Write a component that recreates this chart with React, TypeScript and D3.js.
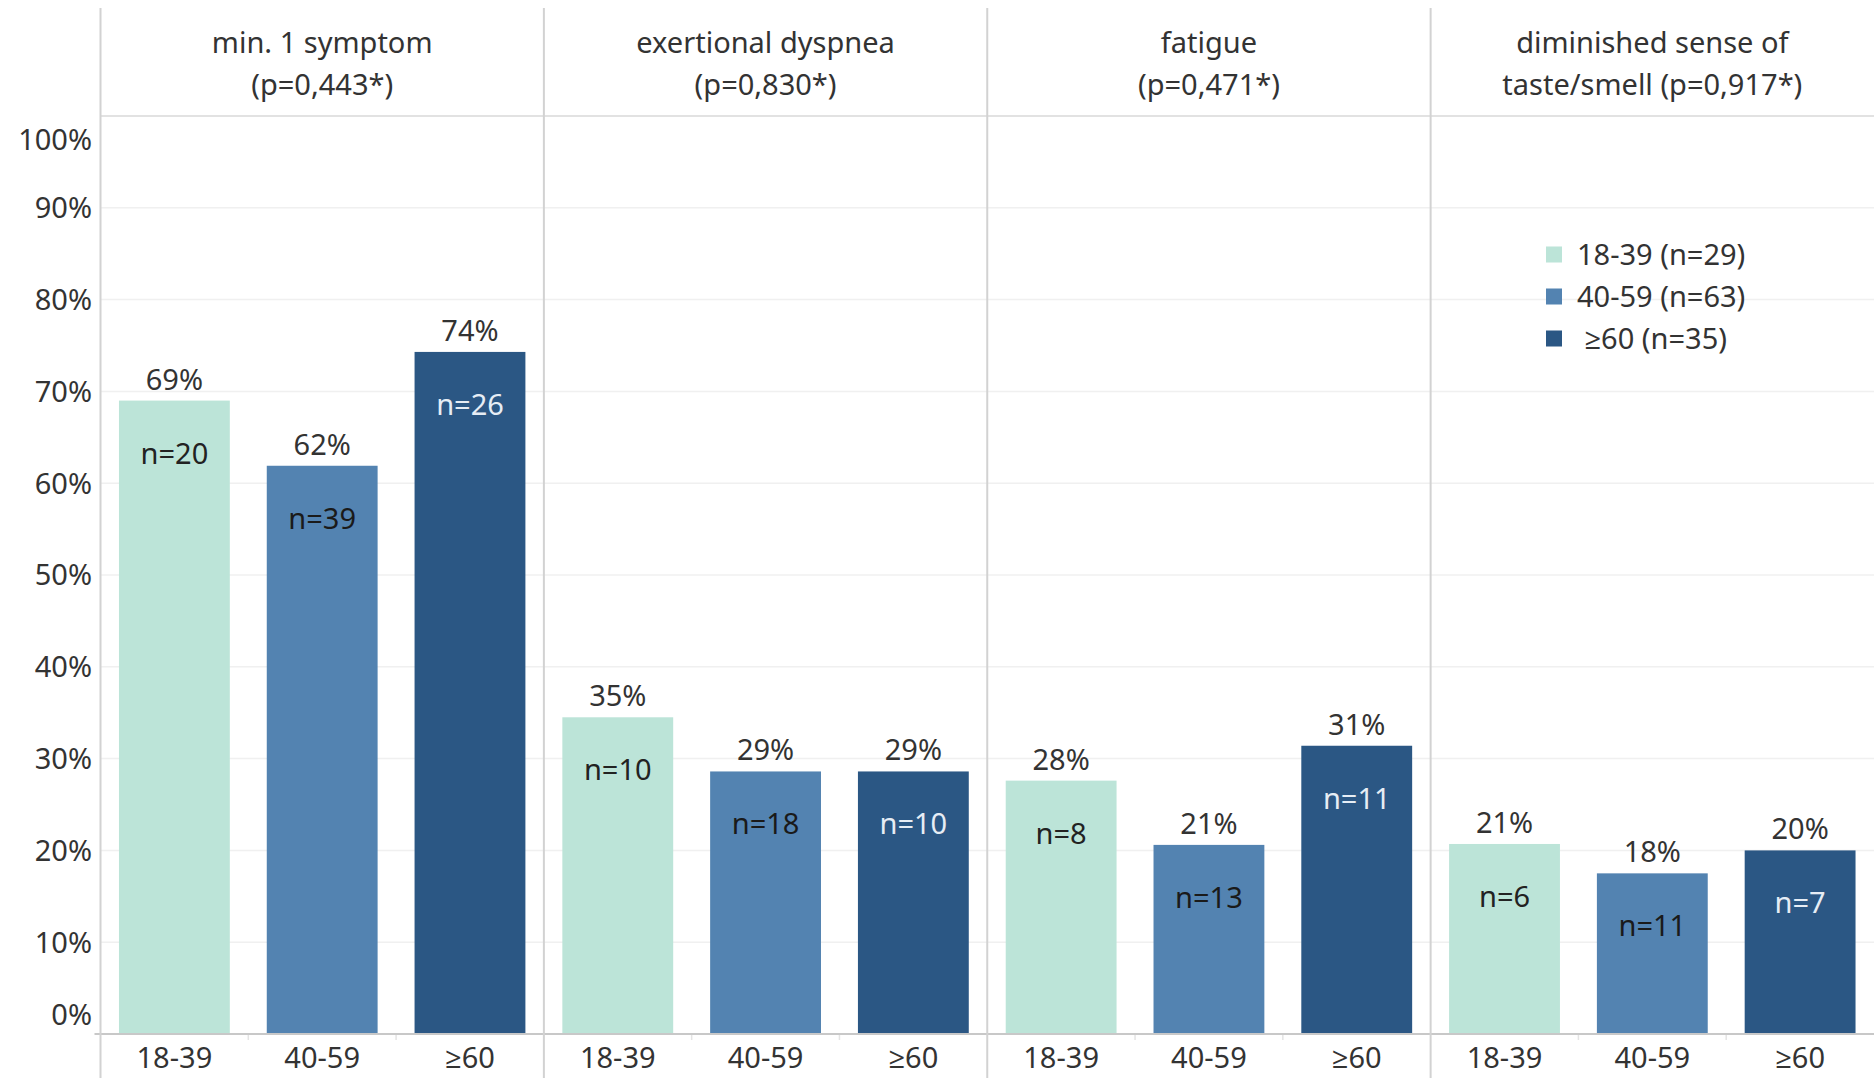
import React from "react";
import * as d3 from "d3";

const symptoms = ["min1", "dyspnea", "fatigue", "taste"];
const headerLine1 = ["min. 1 symptom", "exertional dyspnea", "fatigue", "diminished sense of"];
const headerLine2 = ["(p=0,443*)", "(p=0,830*)", "(p=0,471*)", "taste/smell (p=0,917*)"];
const ageGroups = ["18-39", "40-59", "≥60"];
const legendLabels = ["18-39 (n=29)", "40-59 (n=63)", " ≥60 (n=35)"];
const colors = ["#bce4d8", "#5383b1", "#2b5784"];
const nLabelColors = ["#222222", "#1a1a1a", "#e6edf5"];

const pct18 = [69.0, 34.5, 27.6, 20.7];
const pct40 = [61.9, 28.6, 20.6, 17.5];
const pct60 = [74.3, 28.6, 31.4, 20.0];
const n18 = [20, 10, 8, 6];
const n40 = [39, 18, 13, 11];
const n60 = [26, 10, 11, 7];
const yTicks = [0, 10, 20, 30, 40, 50, 60, 70, 80, 90, 100];

const W = 1874;
const H = 1078;
const left = 100.5;
const headerY = 116;
const baseY = 1034;
const FONT = "'Noto Sans', 'Open Sans', sans-serif";
const FS = 29;
const TXT = "#333333";

export default function App() {
  const pcts = [pct18, pct40, pct60];
  const ns = [n18, n40, n60];
  const panelX = d3.scaleBand<string>().domain(symptoms).range([left, W]).padding(0);
  const pw = panelX.bandwidth();
  const barX = d3.scaleBand<string>().domain(ageGroups).range([0, pw]).paddingInner(0.25).paddingOuter(0.125);
  const y = d3.scaleLinear().domain([0, 100]).range([baseY, headerY]);

  return (
    <svg width={W} height={H} style={{ position: "absolute", left: 0, top: 0, background: "#fff" }} fontFamily={FONT}>
      {yTicks.filter((t) => t > 0 && t < 100).map((t) => (
        <line key={"g" + t} x1={left} x2={W} y1={y(t)} y2={y(t)} stroke="#f0f0f0" strokeWidth={1.5} />
      ))}
      <line x1={left} x2={W} y1={headerY} y2={headerY} stroke="#e2e2e2" strokeWidth={2} />
      {yTicks.map((t) => {
        const cy = Math.max(140, Math.min(1015, y(t)));
        return (
          <text key={"yt" + t} x={92} y={cy} dy="0.36em" textAnchor="end" fontSize={FS} fill={TXT}>
            {t + "%"}
          </text>
        );
      })}
      {symptoms.map((s, si) => {
        const px = panelX(s)!;
        return (
          <g key={s}>
            <text x={px + pw / 2} y={53} textAnchor="middle" fontSize={FS} fill={TXT}>{headerLine1[si]}</text>
            <text x={px + pw / 2} y={95} textAnchor="middle" fontSize={FS} fill={TXT}>{headerLine2[si]}</text>
            {ageGroups.map((a, ai) => {
              const v = pcts[ai][si];
              const bx = px + barX(a)!;
              const top = y(v);
              return (
                <g key={a}>
                  <rect x={bx} y={top} width={barX.bandwidth()} height={baseY - top} fill={colors[ai]} />
                  <text x={bx + barX.bandwidth() / 2} y={top - 11} textAnchor="middle" fontSize={FS} fill={TXT}>
                    {Math.round(v) + "%"}
                  </text>
                  <text x={bx + barX.bandwidth() / 2} y={top + 63} textAnchor="middle" fontSize={FS} fill={nLabelColors[ai]}>
                    {"n=" + ns[ai][si]}
                  </text>
                  <text x={bx + barX.bandwidth() / 2} y={1068} textAnchor="middle" fontSize={FS} fill={TXT}>{a}</text>
                </g>
              );
            })}
            {ageGroups.slice(1).map((a) => (
              <line key={"tk" + a} x1={px + barX(a)! - barX.step() * 0.125} x2={px + barX(a)! - barX.step() * 0.125}
                y1={baseY} y2={baseY + 6} stroke="#e4e4e4" strokeWidth={1.5} />
            ))}
          </g>
        );
      })}
      <line x1={left - 6} x2={W} y1={baseY} y2={baseY} stroke="#c8c8c8" strokeWidth={2} />
      {symptoms.map((s) => (
        <line key={"sep" + s} x1={panelX(s)!} x2={panelX(s)!} y1={8} y2={H} stroke="#d2d2d2" strokeWidth={2} />
      ))}
      {legendLabels.map((l, i) => {
        const cy = 254.5 + i * 42;
        return (
          <g key={l}>
            <rect x={1546} y={cy - 8} width={16} height={16} fill={colors[i]} />
            <text x={1577} y={cy} dy="0.36em" fontSize={FS} fill={TXT} style={{ whiteSpace: "pre" }}>{l}</text>
          </g>
        );
      })}
    </svg>
  );
}
